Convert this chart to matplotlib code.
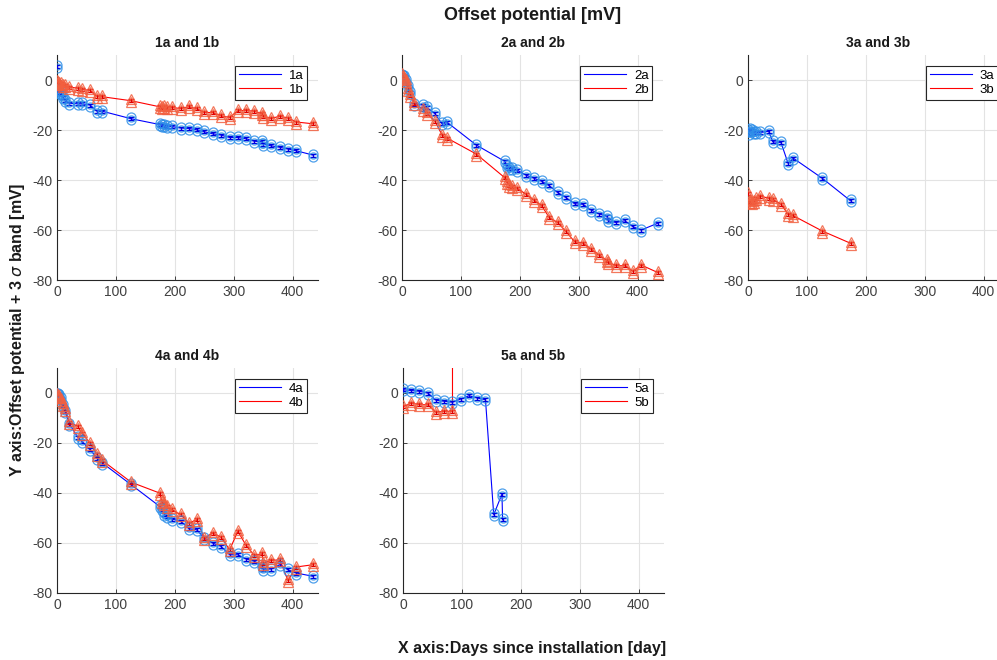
import numpy as np
import matplotlib
matplotlib.use('Agg')
import matplotlib.pyplot as plt

plt.rcParams['font.family'] = ['Liberation Sans', 'DejaVu Sans']
plt.rcParams['axes.unicode_minus'] = False

# Days of measurement (common schedule)
days = [0, 2, 4, 7, 10, 14, 21, 35, 42, 56, 68, 77, 126, 174, 178, 182, 186, 195,
        210, 224, 237, 250, 264, 278, 293, 307, 321, 335, 348, 350, 363, 378, 392, 406, 434]
days3 = days[:14]
days5a = [0, 14, 28, 42, 56, 70, 84, 98, 112, 126, 140, 154, 168, 169]
days5b = [0, 14, 28, 42, 56, 70, 84, 84]

# Offset potential [mV]
s1a = [5.5, -4.3, -5, -5.5, -7, -8, -9.3, -9.5, -9.5, -10, -12.5, -12.5, -15.5, -17.8, -18,
       -18.3, -18.4, -18.6, -19.2, -19.4, -19.9, -20.7, -21.5, -22, -23, -23, -23.5, -24.5,
       -24.7, -25.6, -26.3, -26.9, -27.6, -28.3, -30]
s1b = [-0.7, -1, -1.3, -1.5, -2, -2.3, -2.8, -3.3, -3.7, -4.2, -6.5, -6.7, -8.3, -10.7, -11,
       -10.7, -10.9, -11, -11.4, -10.7, -11.5, -13, -13, -14.3, -15, -12.3, -12.2, -12.5,
       -13.5, -14.7, -15.4, -14.5, -15.2, -16.8, -17.5]
s2a = [2, 1.5, 1.3, 0, -2.7, -5, -9.6, -10, -11, -13.5, -17.5, -17, -26, -32.5, -34.5, -35.3,
       -35.5, -36, -38, -39.3, -40.5, -42.3, -45, -47, -49.5, -49.7, -52, -53.6, -54.5, -56.3,
       -57, -56.3, -58.7, -60, -57.3]
s2b = [2.4, 1.5, 0.8, 0, -3.6, -6, -9.3, -11.6, -13.3, -16.5, -22, -23.3, -29.6, -39, -41, -42,
       -42.5, -43.2, -45.6, -48, -50.3, -55, -57, -60.5, -64.7, -65.2, -67.6, -70, -72.3, -73,
       -74.3, -74.3, -76.5, -74, -77]
s3a = [-20, -21.5, -19.7, -20, -21, -21, -21, -20.5, -24.7, -25, -33.3, -31.3, -39.3, -48.3]
s3b = [-45.3, -48.7, -48.4, -49, -48.4, -47.5, -46.4, -47.3, -47.7, -49.7, -53.7, -54.3, -60.4, -65.3]
s4a = [-0.4, -0.7, -1, -2, -5, -7.5, -12.4, -17.6, -19.3, -22.7, -26, -28, -36.7, -45.3, -46.7,
       -48.4, -49.5, -50.4, -51.3, -54.3, -54.7, -58, -60, -61.3, -64.7, -64.7, -66.4, -67.3,
       -69, -70.4, -70.4, -68.7, -70.7, -72, -73.3]
s4b = [-0.7, -1, -1.3, -2.7, -4.5, -6.7, -11.7, -13.3, -16, -20, -24.7, -27, -35.7, -40, -43.3,
       -44.3, -45.5, -46.7, -48.7, -52, -50.7, -58, -56, -57.6, -62.7, -55.3, -61, -65, -64.3,
       -68, -67, -66.7, -75, -69.6, -68.7]
s5a = [1.3, 1, 0.7, 0, -2.9, -3.3, -3.7, -2.4, -1.1, -2, -2.7, -48.7, -40.4, -50.7]
s5b = [-5.5, -4, -4.7, -4.7, -7.7, -7.3, -7.3, 120]

band = 0.6  # 3 sigma band [mV]

panels = [
    ('1a and 1b', days, s1a, days, s1b, '1a', '1b'),
    ('2a and 2b', days, s2a, days, s2b, '2a', '2b'),
    ('3a and 3b', days3, s3a, days3, s3b, '3a', '3b'),
    ('4a and 4b', days, s4a, days, s4b, '4a', '4b'),
    ('5a and 5b', days5a, s5a, days5b, s5b, '5a', '5b'),
]

W, H = 997, 660
fig = plt.figure(figsize=(W / 100, H / 100), dpi=100)

# axes boxes in pixels: left, top
boxes = [(57, 55), (402, 55), (748, 55), (57, 368), (403, 368)]
aw, ah = 261, 225

def draw_series(ax, x, y, line_col, mk_col, marker):
    x = np.array(x, float)
    y = np.array(y, float)
    ax.errorbar(x, y, yerr=band, fmt='none', ecolor=line_col, elinewidth=1.0,
                capsize=2, capthick=1.0, zorder=3)
    for off in (band, -band):
        ax.plot(x, y + off, linestyle='none', marker=marker, markersize=6.5,
                markerfacecolor='none', markeredgecolor=mk_col, markeredgewidth=0.9,
                alpha=0.85, zorder=4)

for (title, xa, ya, xb, yb, la, lb), (bx, by) in zip(panels, boxes):
    ax = fig.add_axes([bx / W, 1 - (by + ah) / H, aw / W, ah / H])
    ha, = ax.plot(xa, ya, color='#0000ff', lw=0.8, zorder=2)
    hb, = ax.plot(xb, yb, color='#ff0000', lw=0.8, zorder=2)
    draw_series(ax, xa, ya, '#0000e0', '#2f8fe8', 'o')
    draw_series(ax, xb, yb, '#e00000', '#f26040', '^')
    ax.set_xlim(0, 443)
    ax.set_ylim(-80, 10)
    ax.set_xticks([0, 100, 200, 300, 400])
    ax.set_yticks([-80, -60, -40, -20, 0])
    ax.grid(True, color='#e3e3e3', lw=0.8)
    ax.set_axisbelow(True)
    for s in ('top', 'right'):
        ax.spines[s].set_visible(False)
    for s in ('left', 'bottom'):
        ax.spines[s].set_color('#262626')
        ax.spines[s].set_linewidth(0.8)
    ax.tick_params(direction='in', length=3, width=0.6, colors='#262626',
                   labelsize=10, labelcolor='#404040')
    ax.set_title(title, fontsize=10, fontweight='bold', color='#1a1a1a', pad=6)
    leg = ax.legend([ha, hb], [la, lb], loc='upper right', fontsize=9.5,
                    handlelength=3.2, fancybox=False, framealpha=1,
                    edgecolor='#262626', borderaxespad=0.8, handletextpad=0.6,
                    labelspacing=0.15, borderpad=0.3)
    leg.get_frame().set_linewidth(0.8)

fig.text(533 / W, 1 - 16 / H, 'Offset potential [mV]', ha='center', va='center',
         fontsize=13, fontweight='bold', color='#1a1a1a')
fig.text(532 / W, 1 - 648 / H, 'X axis:Days since installation [day]', ha='center',
         va='center', fontsize=11.5, fontweight='bold', color='#1a1a1a')
fig.text(18 / W, 1 - 330 / H, r'Y axis:Offset potential + 3 $\sigma$ band [mV]',
         ha='center', va='center', rotation=90, fontsize=11.5, fontweight='bold',
         color='#1a1a1a')

fig.savefig('out.png', dpi=100)
